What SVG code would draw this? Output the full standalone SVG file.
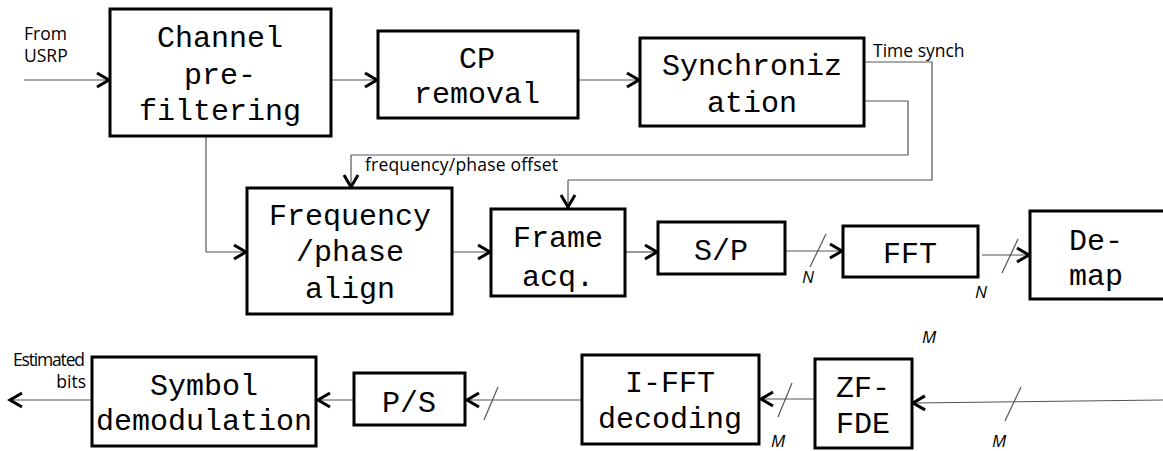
<svg xmlns="http://www.w3.org/2000/svg" width="1163" height="451" viewBox="0 0 1163 451">
<style>
.box{fill:#fff;stroke:#000;stroke-width:3}
.t{font-family:"Liberation Mono","Courier New","Nimbus Mono PS","FreeMono",Courier,monospace;font-size:30px;fill:#000;text-anchor:middle}
.lbl{font-family:"Open Sans","Liberation Sans",sans-serif;font-size:17.5px;fill:#000}
.it{font-family:"Open Sans","Liberation Sans",sans-serif;font-size:17px;font-style:italic;fill:#000}
.c{fill:none;stroke:#555;stroke-width:1.2}
.ar{marker-end:url(#ah)}
</style>
<defs>
<marker id="ah" markerUnits="userSpaceOnUse" markerWidth="20" markerHeight="20" refX="14" refY="8" orient="auto" viewBox="0 0 20 16" overflow="visible">
<path d="M2,1 L14,8 L2,15" fill="none" stroke="#000" stroke-width="3" stroke-linejoin="miter"/>
</marker>
</defs>
<rect width="1163" height="451" fill="#fff"/>
<g id="connectors">
<path class="c ar" d="M24,80 H109"/>
<path class="c ar" d="M331,80 H377"/>
<path class="c ar" d="M578,80 H639"/>
<path class="c" d="M864,62 H932 V180 H568"/>
<path class="c ar" d="M568,180 V207"/>
<path class="c" d="M864,101 H908 V155 H351"/>
<path class="c ar" d="M351,155 V187"/>
<path class="c" d="M206,136 V252"/>
<path class="c ar" d="M206,252 H246"/>
<path class="c ar" d="M452,252 H490"/>
<path class="c ar" d="M625,252 H657"/>
<path class="c ar" d="M785,251 H842"/>
<path class="c" d="M826,234 L810,267"/>
<path class="c ar" d="M982,255 H1029"/>
<path class="c" d="M1018,239 L1002,273"/>
<path class="c ar" d="M1163,400 L913,403"/>
<path class="c" d="M1021,387 L1005,421"/>
<path class="c ar" d="M815,399 H761"/>
<path class="c" d="M792,383 L778,417"/>
<path class="c ar" d="M582,400 H467"/>
<path class="c" d="M498,387 L484,420"/>
<path class="c ar" d="M354,400 H318"/>
<path class="c ar" d="M92,400 H10"/>
</g>
<g id="labels">
<text class="lbl" x="24" y="40">From</text>
<text class="lbl" x="24" y="62">USRP</text>
<text class="lbl" x="873" y="57">Time synch</text>
<text class="lbl" x="365" y="171" textLength="193">frequency/phase offset</text>
<text class="lbl" x="13" y="366" textLength="72">Estimated</text>
<text class="lbl" x="86" y="388" text-anchor="end">bits</text>
<text class="it" x="802" y="283">N</text>
<text class="it" x="975" y="298">N</text>
<text class="it" x="922" y="343">M</text>
<text class="it" x="771" y="447">M</text>
<text class="it" x="992" y="447">M</text>
</g>
<g id="channel"><rect class="box" x="110" y="9" width="221" height="127"/><text class="t" x="220" y="47">Channel</text><text class="t" x="220" y="84">pre-</text><text class="t" x="220" y="120">filtering</text></g>
<g id="cp"><rect class="box" x="378" y="31" width="200" height="87"/><text class="t" x="477" y="68">CP</text><text class="t" x="477" y="103">removal</text></g>
<g id="sync"><rect class="box" x="640" y="38" width="224" height="88"/><text class="t" x="752" y="75">Synchroniz</text><text class="t" x="752" y="112">ation</text></g>
<g id="freq"><rect class="box" x="247" y="188" width="205" height="126"/><text class="t" x="350" y="225">Frequency</text><text class="t" x="350" y="261">/phase</text><text class="t" x="350" y="298">align</text></g>
<g id="frame"><rect class="box" x="491" y="209" width="134" height="87"/><text class="t" x="558" y="247">Frame</text><text class="t" x="558" y="286">acq.</text></g>
<g id="sp"><rect class="box" x="658" y="222" width="127" height="52"/><text class="t" x="721" y="260">S/P</text></g>
<g id="fft"><rect class="box" x="843" y="226" width="135" height="51"/><text class="t" x="910" y="263">FFT</text></g>
<g id="demap"><rect class="box" x="1030" y="211" width="140" height="88"/><text class="t" x="1096" y="250">De-</text><text class="t" x="1096" y="285">map</text></g>
<g id="zf"><rect class="box" x="815" y="359" width="97" height="89"/><text class="t" x="863" y="397">ZF-</text><text class="t" x="863" y="433">FDE</text></g>
<g id="ifft"><rect class="box" x="582" y="355" width="177" height="89"/><text class="t" x="670" y="392">I-FFT</text><text class="t" x="670" y="428">decoding</text></g>
<g id="ps"><rect class="box" x="354" y="373" width="111" height="52"/><text class="t" x="409" y="412">P/S</text></g>
<g id="symbol"><rect class="box" x="92" y="357" width="224" height="89"/><text class="t" x="204" y="395">Symbol</text><text class="t" x="204" y="430">demodulation</text></g>
</svg>
